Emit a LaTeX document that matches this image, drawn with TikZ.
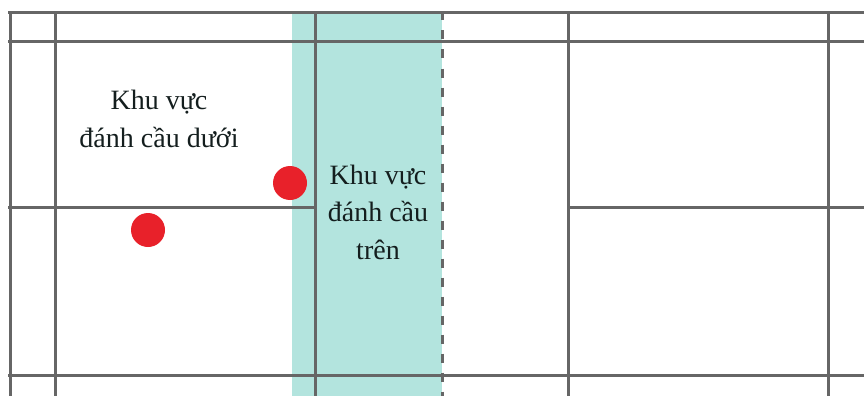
\documentclass[tikz,border=0pt]{standalone}
\usepackage{fontspec}
\setmainfont{Liberation Serif}
\definecolor{courtline}{HTML}{666666}
\definecolor{tealzone}{HTML}{B3E4DE}
\definecolor{dotred}{HTML}{E8212A}
\definecolor{txt}{HTML}{141E1E}
\begin{document}
\begin{tikzpicture}[x=1pt,y=-1pt,
  court/.style={draw=courtline,line width=3pt},
  dashcourt/.style={draw=courtline,line width=3pt,dash pattern=on 9pt off 10pt},
  reddot/.style={circle,fill=dotred,minimum size=34pt,inner sep=0pt},
  label/.style={align=center,text=txt,font=\fontsize{28}{37.5}\selectfont,inner sep=0pt}]
\useasboundingbox (0,0) rectangle (864,396);
\fill[tealzone] (292,13) rectangle (442,396);
% horizontal lines
\draw[court] (8,13) -- (864,13);
\draw[court] (8,42) -- (864,42);
\draw[court] (8,207) -- (315,207);
\draw[court] (568,207) -- (864,207);
\draw[court] (8,375) -- (864,375);
% vertical lines
\draw[court] (10,11.5) -- (10,396);
\draw[court] (55,11.5) -- (55,396);
\draw[court] (315,11.5) -- (315,396);
\draw[court] (568,11.5) -- (568,396);
\draw[court] (828,11.5) -- (828,396);
\draw[dashcourt] (442,11.5) -- (442,396);
% dots
\node[reddot] (d1) at (290,183) {};
\node[reddot] (d2) at (148,230) {};
% labels
\node[label] (lower) at (159,119) {Khu vực\\đánh cầu dưới};
\node[label] (upper) at (378,212) {Khu vực\\đánh cầu\\trên};
\end{tikzpicture}
\end{document}
